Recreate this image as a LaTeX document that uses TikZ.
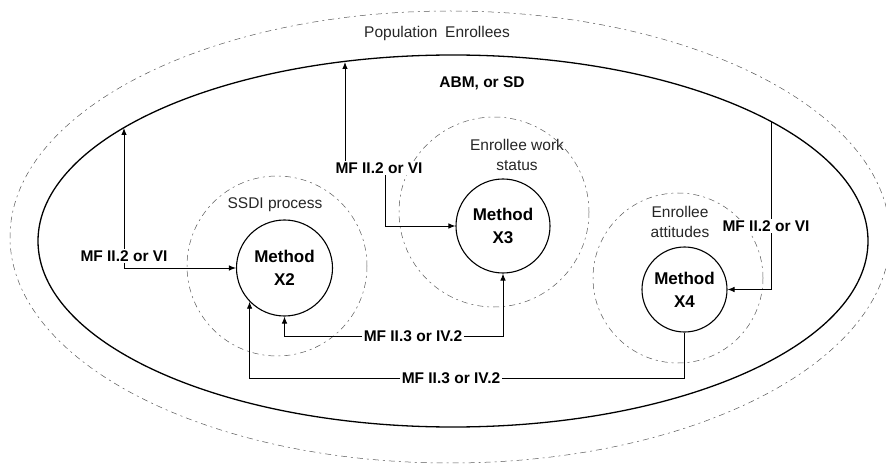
\documentclass[tikz,border=0pt]{standalone}
\usepackage{fontspec}
\setmainfont{Liberation Sans}
\usetikzlibrary{arrows.meta}
\begin{document}
\begin{tikzpicture}[x=1pt,y=-1pt,
  method/.style={draw, circle, line width=1.1pt, inner sep=0pt, align=center, font=\fontsize{17}{23}\selectfont\bfseries},
  zone/.style={draw=black!65, line width=0.5pt, dash pattern=on 6pt off 4pt on 2pt off 4pt},
  region/.style={font=\fontsize{15.5}{20}\selectfont, text=black!85, align=center},
  mf/.style={fill=white, inner sep=1.5pt, font=\fontsize{15.5}{18}\selectfont\bfseries},
  link/.style={line width=0.9pt, -{Latex[length=7pt,width=5.5pt]}}]
  \useasboundingbox (0,0) rectangle (886,465);
  % population and model boundaries
  \draw[zone] (450,237) ellipse [x radius=440, y radius=226];
  \draw[line width=1.3pt] (453,241) ellipse [x radius=415, y radius=186];
  \node[region] (pop) at (437,33) {Population\enspace Enrollees};
  \node[font=\fontsize{15.5}{18}\selectfont\bfseries] (abm) at (482,83) {ABM, or SD};
  \coordinate (eL) at (124,128);
  \coordinate (eT) at (345,62);
  \coordinate (eR) at (771,122);
  % sub-models
  \draw[zone] (277,266) circle [radius=90];
  \draw[zone] (494,212) circle [radius=95];
  \draw[zone] (678,278) circle [radius=85];
  \node[region] (ssdi) at (275,205) {SSDI process};
  \node[region] (work) at (517,155) {Enrollee work\\status};
  \node[region] (att) at (680,222) {Enrollee\\attitudes};
  \node[method, minimum size=96pt] (x2) at (284.5,268) {Method\\X2};
  \node[method, minimum size=94pt] (x3) at (503,226) {Method\\X3};
  \node[method, minimum size=85pt] (x4) at (684.5,289.5) {Method\\X4};
  % links
  \node[mf] (mfa) at (124,256) {MF II.2 or VI};
  \node[mf] (mfb) at (379,168) {MF II.2 or VI};
  \node[mf] (mfc) at (766,226) {MF II.2 or VI};
  \node[mf] (mfd) at (413,336) {MF II.3 or IV.2};
  \node[mf] (mfe) at (451,378) {MF II.3 or IV.2};
  \draw[link] (mfa.south) |- (x2.west);
  \draw[link] (mfa.north) -- (eL);
  \draw[link] (mfb.north -| eT) -- (eT);
  \draw[link] ([xshift=6pt]mfb.south) |- (x3.west);
  \draw[line width=0.9pt] (eR) -- (mfc.north -| eR);
  \draw[link] (mfc.south -| eR) |- (x4.east);
  \draw[link] (mfd.east) -| (x3.south);
  \draw[link] (mfd.west) -| (x2.south);
  \draw[line width=0.9pt] (x4.south) |- (mfe.east);
  \draw[link] (mfe.west) -| (x2.224);
\end{tikzpicture}
\end{document}
